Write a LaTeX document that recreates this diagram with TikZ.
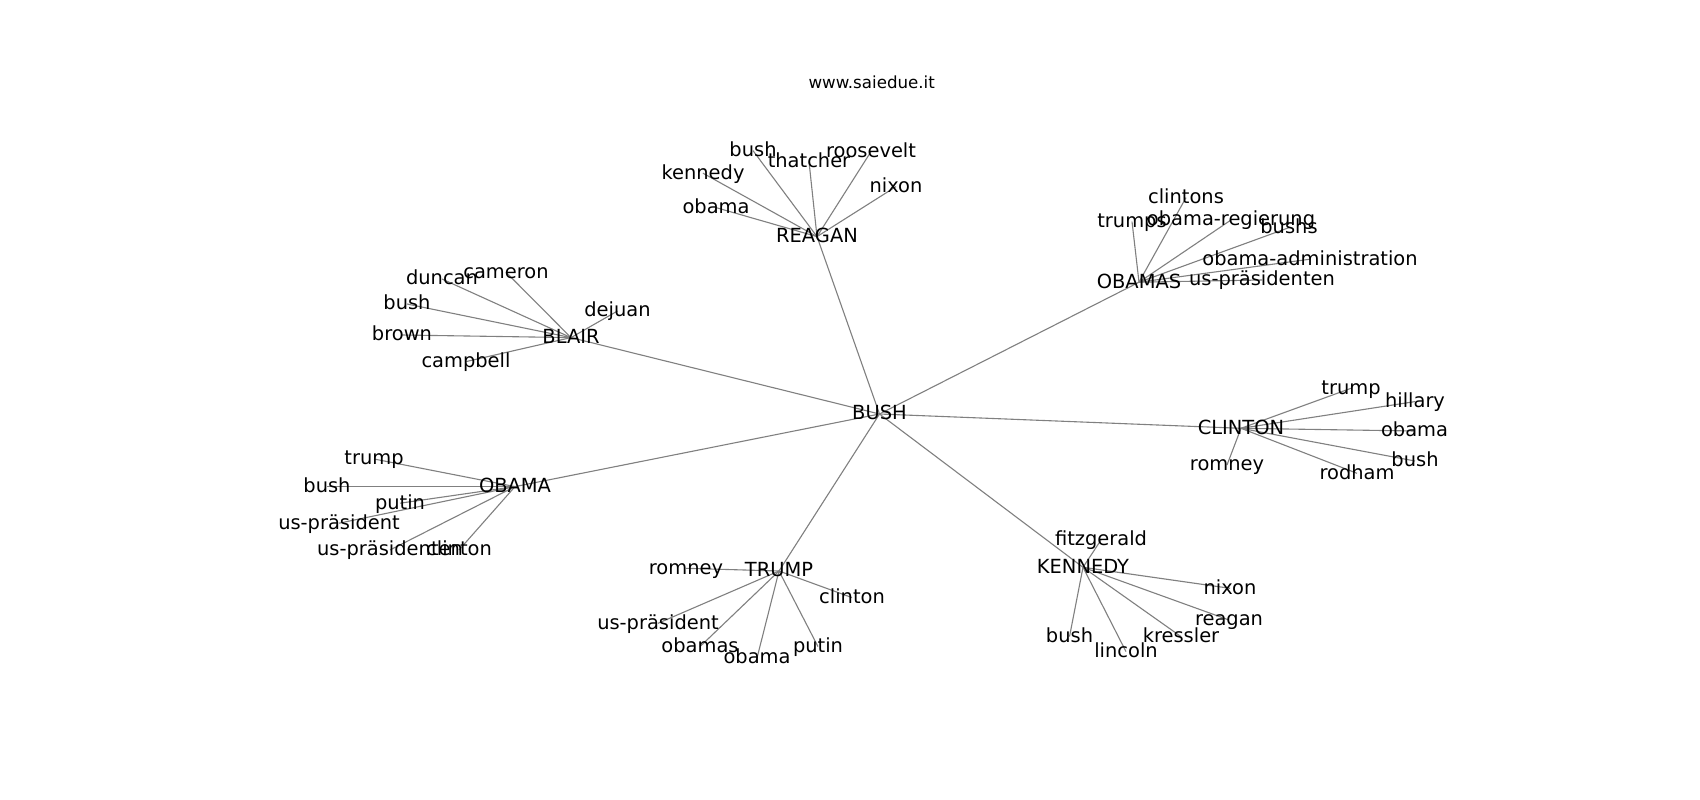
\documentclass[tikz,border=0pt]{standalone}
\usepackage{fontspec}
\setmainfont{DejaVu Sans}
\usetikzlibrary{backgrounds}
\newcommand\lblfont{\fontsize{19.44pt}{23pt}\selectfont}
\newcommand\ttlfont{\fontsize{16.67pt}{20pt}\selectfont}
\tikzset{
  lbl/.style={inner sep=0pt, outer sep=0pt, font=\lblfont, text height=14.8pt, text depth=3.2pt, anchor=center, text=black},
  edgeline/.style={draw=black!50, line width=1.1pt},
}
\begin{document}
\begin{tikzpicture}[x=1pt, y=-1pt]
\useasboundingbox (0,0) rectangle (1700,800);
\node[font=\ttlfont, anchor=base, inner sep=0pt] (title) at (871.7,88.8) {www.saiedue.it};
% hubs
\node[lbl] (BUSH) at (879.5,414) {BUSH};
\node[lbl] (REAGAN) at (817,236.6) {REAGAN};
\node[lbl] (OBAMAS) at (1139,282.2) {OBAMAS};
\node[lbl] (BLAIR) at (571,337.6) {BLAIR};
\node[lbl] (CLINTON) at (1241,428.3) {CLINTON};
\node[lbl] (OBAMA) at (515,486.6) {OBAMA};
\node[lbl] (TRUMP) at (779,571) {TRUMP};
\node[lbl] (KENNEDY) at (1083,567.3) {KENNEDY};
% REAGAN leaves
\node[lbl] (r1) at (753,150.6) {bush};
\node[lbl] (r2) at (809,161.6) {thatcher};
\node[lbl] (r3) at (871,151.6) {roosevelt};
\node[lbl] (r4) at (896,186.6) {nixon};
\node[lbl] (r5) at (703,173.2) {kennedy};
\node[lbl] (r6) at (716,207.6) {obama};
% OBAMAS leaves
\node[lbl] (s1) at (1186,197.6) {clintons};
\node[lbl] (s2) at (1132,221.6) {trumps};
\node[lbl] (s3) at (1231,220) {obama-regierung};
\node[lbl] (s4) at (1289,227.6) {bushs};
\node[lbl] (s5) at (1310,259.2) {obama-administration};
\node[lbl] (s6) at (1262,280) {us-präsidenten};
% BLAIR leaves
\node[lbl] (b1) at (442,279) {duncan};
\node[lbl] (b2) at (506,272.2) {cameron};
\node[lbl] (b3) at (407,304) {bush};
\node[lbl] (b4) at (617.5,311) {dejuan};
\node[lbl] (b5) at (402,335) {brown};
\node[lbl] (b6) at (466,361.6) {campbell};
% CLINTON leaves
\node[lbl] (c1) at (1351,388.3) {trump};
\node[lbl] (c2) at (1415,401.6) {hillary};
\node[lbl] (c3) at (1414.5,431) {obama};
\node[lbl] (c4) at (1227,465) {romney};
\node[lbl] (c5) at (1415,461) {bush};
\node[lbl] (c6) at (1357,473.3) {rodham};
% OBAMA leaves
\node[lbl] (o1) at (374,459) {trump};
\node[lbl] (o2) at (327,486.6) {bush};
\node[lbl] (o3) at (400,503.2) {putin};
\node[lbl] (o4) at (339,523.2) {us-präsident};
\node[lbl] (o5) at (390,550) {us-präsidenten};
\node[lbl] (o6) at (459,550) {clinton};
% TRUMP leaves
\node[lbl] (t1) at (686,568.3) {romney};
\node[lbl] (t2) at (852,597.6) {clinton};
\node[lbl] (t3) at (658,623.3) {us-präsident};
\node[lbl] (t4) at (700,646.6) {obamas};
\node[lbl] (t5) at (757,658) {obama};
\node[lbl] (t6) at (818,646.6) {putin};
% KENNEDY leaves
\node[lbl] (k1) at (1101,540) {fitzgerald};
\node[lbl] (k2) at (1230,588.3) {nixon};
\node[lbl] (k3) at (1229,620) {reagan};
\node[lbl] (k4) at (1069.5,636.6) {bush};
\node[lbl] (k5) at (1181,636.6) {kressler};
\node[lbl] (k6) at (1126,651.6) {lincoln};
\begin{pgfonlayer}{background}
\fill[white] (0,0) rectangle (1700,800);
\foreach \h in {REAGAN,OBAMAS,BLAIR,CLINTON,OBAMA,TRUMP,KENNEDY}
  \draw[edgeline] (BUSH.center) -- (\h.center);
\foreach \l in {r1,r2,r3,r4,r5,r6} \draw[edgeline] (REAGAN.center) -- (\l.center);
\foreach \l in {s1,s2,s3,s4,s5,s6} \draw[edgeline] (OBAMAS.center) -- (\l.center);
\foreach \l in {b1,b2,b3,b4,b5,b6} \draw[edgeline] (BLAIR.center) -- (\l.center);
\foreach \l in {c1,c2,c3,c4,c5,c6} \draw[edgeline] (CLINTON.center) -- (\l.center);
\foreach \l in {o1,o2,o3,o4,o5,o6} \draw[edgeline] (OBAMA.center) -- (\l.center);
\foreach \l in {t1,t2,t3,t4,t5,t6} \draw[edgeline] (TRUMP.center) -- (\l.center);
\foreach \l in {k1,k2,k3,k4,k5,k6} \draw[edgeline] (KENNEDY.center) -- (\l.center);
\end{pgfonlayer}
\end{tikzpicture}
\end{document}
